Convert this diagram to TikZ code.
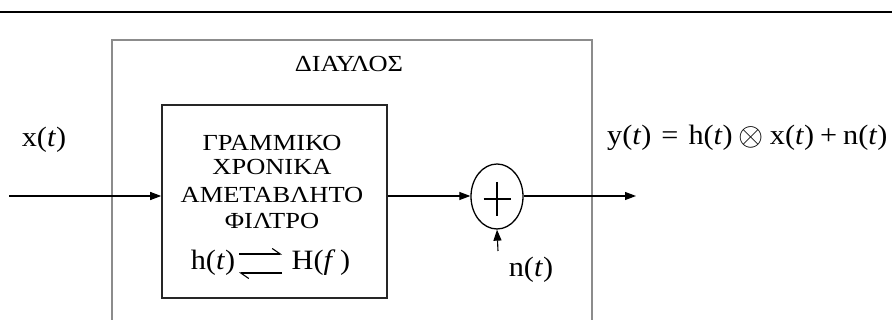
\documentclass[tikz,border=0pt]{standalone}
\usepackage{fontspec}
\setmainfont{Liberation Serif}
\newfontfamily\lblfont[FakeStretch=1.15]{Liberation Serif}
\newfontfamily\eqfont[FakeStretch=1.08]{Liberation Serif}
\usetikzlibrary{arrows.meta,shapes.geometric}
\tikzset{
  sig/.style={line width=1.1pt,-{Triangle[length=11pt,width=8pt]}},
  graybox/.style={draw=black!45,line width=1.4pt},
  blockbox/.style={draw=black!85,line width=1.6pt,minimum width=225pt,minimum height=193pt,inner sep=0pt},
  caps/.style={font=\lblfont\fontsize{23}{26}\selectfont,inner sep=0pt},
  eq/.style={font=\eqfont\fontsize{28}{32}\selectfont,inner sep=0pt},
  harp/.style={line width=1.1pt},
}
\begin{document}
\begin{tikzpicture}[x=1pt,y=-1pt]
\useasboundingbox (0,0) rectangle (892,320);
% top rule
\draw[line width=2pt] (0,12) -- (892,12);
% channel box
\draw[graybox] (112,320) -- (112,40) -- (592,40) -- (592,320);
\node[caps] (ch) at (349,64) {ΔΙΑΥΛΟΣ};
% filter block
\node[blockbox] (filt) at (274.5,201.5) {};
\node[caps] (l1) at (272,143) {ΓΡΑΜΜΙΚΟ};
\node[caps] (l2) at (272,167) {ΧΡΟΝΙΚΑ};
\node[caps] (l3) at (272,195) {ΑΜΕΤΑΒΛΗΤΟ};
\node[caps] (l4) at (272,221) {ΦΙΛΤΡΟ};
\node[eq] (ht) at (213,263) {h(\textit{t})};
\node[eq] (Hf) at (321,263) {H(\textit{f}\,)};
\coordinate (a1) at (239,254);
\coordinate (a2) at (282,254);
\coordinate (b1) at (239,273);
\coordinate (b2) at (282,273);
\draw[harp,-{Straight Barb[harpoon,length=8pt,width=11pt]}] (a1) -- (a2);
\draw[harp,-{Straight Barb[harpoon,length=8pt,width=11pt]}] (b2) -- (b1);
% summer
\node[draw,ellipse,line width=1.3pt,minimum width=52pt,minimum height=65pt,inner sep=0pt] (sum) at (497,196.5) {};
\draw[line width=1.1pt] ([xshift=-13.5pt,yshift=-2.5pt]sum.center) -- ([xshift=13.5pt,yshift=-2.5pt]sum.center);
\draw[line width=1.1pt] ([yshift=14.5pt]sum.center) -- ([yshift=-19.5pt]sum.center);
% signals
\coordinate (in) at (9,196);
\coordinate (out) at (636,196);
\coordinate (nin) at (498,251);
\draw[sig] (in) -- (filt.west |- in);
\draw[sig] (filt.east |- in) -- (sum.west |- in);
\draw[sig] (sum.east |- in) -- (out);
\draw[sig] (nin) -- (sum.south);
% labels
\node[eq] (xt) at (44,140) {x(\textit{t})};
\node[eq] (nt) at (531,270) {n(\textit{t})};
\node[eq,anchor=west] (yt) at (607,138) {y(\textit{t})\hspace{10pt}=\hspace{10pt}h(\textit{t})\hspace{6pt}\raisebox{-1pt}{\scalebox{1.3}{$\otimes$}}\hspace{6pt}x(\textit{t})\hspace{6pt}+\hspace{6pt}n(\textit{t})};
\end{tikzpicture}
\end{document}
